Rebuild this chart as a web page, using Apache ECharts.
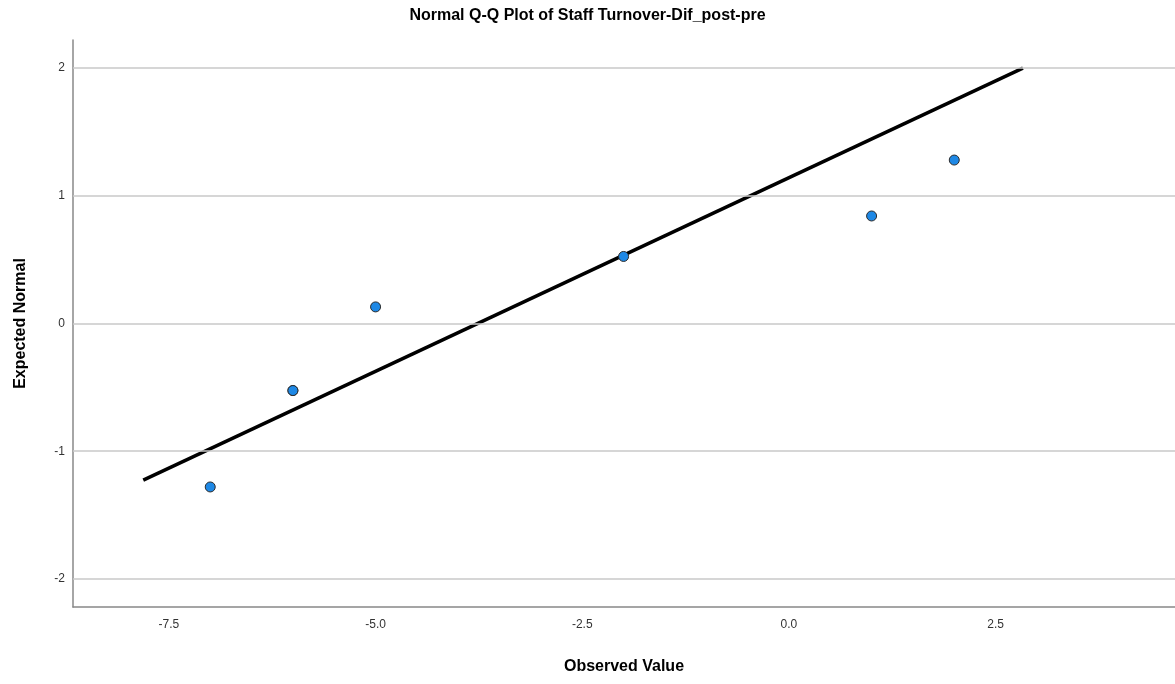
<!DOCTYPE html>
<html>
<head>
<meta charset="utf-8">
<script src="https://cdn.jsdelivr.net/npm/echarts@6/dist/echarts.min.js"></script>
<style>html,body{margin:0;padding:0;background:#fff}#c{width:1175px;height:684px}</style>
</head>
<body>
<div id="c"></div>
<script>
const titleText = "Normal Q-Q Plot of Staff Turnover-Dif_post-pre";
const xAxisName = "Observed Value";
const yAxisName = "Expected Normal";
const observed = [-7, -6, -6, -5, -2, 1, 2];
const expected = [-1.28, -0.525, -0.525, 0.13, 0.525, 0.842, 1.28];
const lineX = [-7.81, 2.83];
const lineY = [-1.226, 2.0];
const xTicks = [-7.5, -5.0, -2.5, 0.0, 2.5];
const yTicks = [-2, -1, 0, 1, 2];
const xRange = [-8.66, 4.67];
const yRange = [-2.22, 2.22];

const chart = echarts.init(document.getElementById('c'), null, {renderer: 'canvas'});
const font = 'Liberation Sans, Arial, sans-serif';
chart.setOption({
  animation: false,
  backgroundColor: '#fff',
  title: {
    text: titleText, left: 'center', top: 3,
    textStyle: {fontFamily: font, fontSize: 16, fontWeight: 'bold', color: '#000'}
  },
  grid: {left: 73, right: 0, top: 40, bottom: 77, containLabel: false},
  xAxis: {
    type: 'value', min: xRange[0], max: xRange[1],
    name: xAxisName, nameLocation: 'middle', nameGap: 52,
    nameTextStyle: {fontFamily: font, fontSize: 16, fontWeight: 'bold', color: '#000'},
    axisLine: {show: true, onZero: false, lineStyle: {color: '#888', width: 1.5}},
    axisTick: {show: false, customValues: xTicks},
    axisLabel: {customValues: xTicks, margin: 12, fontFamily: font, fontSize: 12, color: '#333',
      formatter: v => v.toFixed(1)},
    splitLine: {show: false}
  },
  yAxis: {
    type: 'value', min: yRange[0], max: yRange[1],
    name: yAxisName, nameLocation: 'middle', nameGap: 44,
    nameTextStyle: {fontFamily: font, fontSize: 16, fontWeight: 'bold', color: '#000'},
    axisLine: {show: true, onZero: false, lineStyle: {color: '#888', width: 1.5}},
    axisTick: {show: false, customValues: yTicks},
    axisLabel: {customValues: yTicks, margin: 8, fontFamily: font, fontSize: 12, color: '#333',
      formatter: v => String(Math.round(v))},
    splitLine: {show: false}
  },
  series: [
    {
      type: 'line', data: [], silent: true,
      markLine: {
        silent: true, symbol: 'none', label: {show: false},
        lineStyle: {color: '#c8c8c8', width: 1.5, type: 'solid'},
        data: yTicks.map(v => ({yAxis: v}))
      }
    },
    {
      type: 'line', data: lineX.map((x, i) => [x, lineY[i]]),
      showSymbol: false, symbol: 'none',
      lineStyle: {color: '#000', width: 3.5}, z: 3
    },
    {
      type: 'scatter', data: observed.map((x, i) => [x, expected[i]]),
      symbol: 'circle', symbolSize: 10,
      itemStyle: {color: '#1e88e5', borderColor: '#2b2b2b', borderWidth: 1, opacity: 1},
      z: 4
    }
  ]
});
</script>
</body>
</html>
